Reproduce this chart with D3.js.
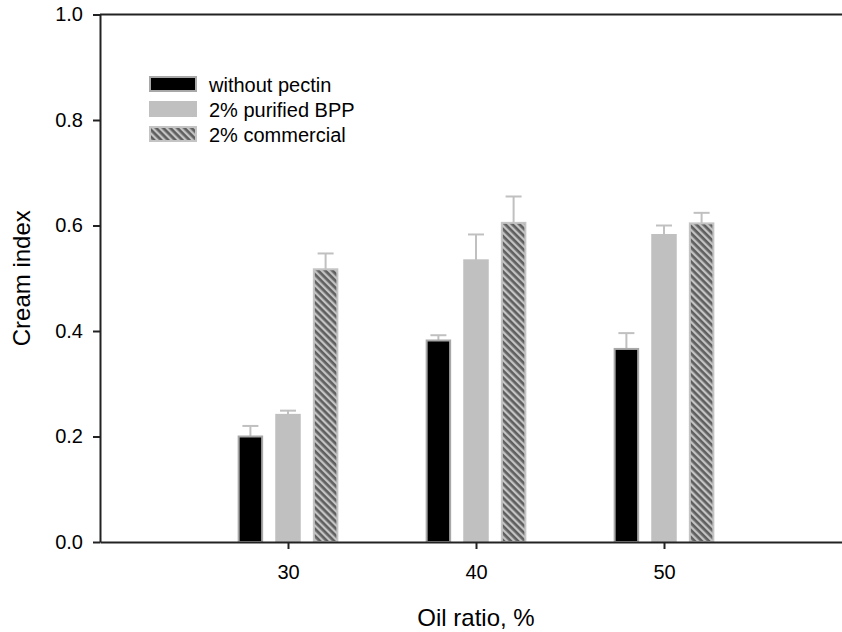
<!DOCTYPE html>
<html>
<head>
<meta charset="utf-8">
<script src="https://cdn.jsdelivr.net/npm/d3@7"></script>
<style>
  body { margin: 0; background: #fff; }
  svg { display: block; font-family: Arial, "Liberation Sans", sans-serif; }
</style>
</head>
<body>
<div id="graph"></div>
<script>
// donnees
const oilRatios = [30, 40, 50];
const seriesNames = ['without pectin', '2% purified BPP', '2% commercial'];
const withoutPectin = [0.200, 0.382, 0.366];
const purifiedBPP = [0.241, 0.534, 0.582];
const commercial = [0.517, 0.605, 0.604];
const errWithout = [0.020, 0.010, 0.030];
const errBPP = [0.008, 0.049, 0.018];
const errCommercial = [0.030, 0.050, 0.020];
const yTicks = [0, 0.2, 0.4, 0.6, 0.8, 1.0];

const width = 842, height = 632;

let svg = d3.select('#graph').append('svg')
    .attr('width', width)
    .attr('height', height);

// motif hachure pour la serie "commercial"
let defs = svg.append('defs');
let pat = defs.append('pattern')
    .attr('id', 'hatch')
    .attr('patternUnits', 'userSpaceOnUse')
    .attr('width', 5)
    .attr('height', 5)
    .attr('patternTransform', 'rotate(-45)');
pat.append('rect').attr('width', 5).attr('height', 5).attr('fill', '#5f5f5f');
pat.append('rect').attr('width', 2.3).attr('height', 5).attr('fill', '#c4c4c4');

let x = d3.scaleLinear().domain([20, 60]).range([100, 852]);
let y = d3.scaleLinear().domain([0, 1]).range([542, 14.5]);

const series = [
    { name: seriesNames[0], values: withoutPectin, err: errWithout, fill: '#000', stroke: '#a8a8a8', offset: -2 },
    { name: seriesNames[1], values: purifiedBPP, err: errBPP, fill: '#c0c0c0', stroke: '#c0c0c0', offset: 0 },
    { name: seriesNames[2], values: commercial, err: errCommercial, fill: 'url(#hatch)', stroke: '#c4c4c4', offset: 2 }
];
const barW = x(1.25) - x(0);

// barres d'erreur (seulement vers le haut)
series.forEach(s => {
    let g = svg.append('g').attr('stroke', '#c0c0c0').attr('stroke-width', 2);
    oilRatios.forEach((r, i) => {
        let cx = x(r + s.offset);
        g.append('line')
            .attr('x1', cx).attr('x2', cx)
            .attr('y1', y(s.values[i])).attr('y2', y(s.values[i] + s.err[i]));
        g.append('line')
            .attr('x1', cx - 8).attr('x2', cx + 8)
            .attr('y1', y(s.values[i] + s.err[i])).attr('y2', y(s.values[i] + s.err[i]));
    });
});

// barres
series.forEach(s => {
    svg.append('g')
        .selectAll('rect')
        .data(s.values)
        .join('rect')
        .attr('x', (d, i) => x(oilRatios[i] + s.offset) - barW / 2)
        .attr('y', d => y(d))
        .attr('width', barW)
        .attr('height', d => y(0) - y(d))
        .attr('fill', s.fill)
        .attr('stroke', s.stroke)
        .attr('stroke-width', 2);
});

// axes
let yAxis = svg.append('g')
    .attr('transform', 'translate(' + x(20) + ',0)')
    .call(d3.axisLeft(y).tickValues(yTicks).tickFormat(d3.format('.1f')).tickSize(7).tickSizeOuter(0).tickPadding(10));
let xAxis = svg.append('g')
    .attr('transform', 'translate(0,' + y(0) + ')')
    .call(d3.axisBottom(x).tickValues(oilRatios).tickSize(7).tickSizeOuter(0).tickPadding(16));
svg.append('line')
    .attr('x1', x(20)).attr('x2', x(60))
    .attr('y1', y(1)).attr('y2', y(1))
    .attr('stroke', '#222').attr('stroke-width', 2);

[yAxis, xAxis].forEach(a => {
    a.selectAll('path, line').attr('stroke', '#222').attr('stroke-width', 2);
    a.selectAll('text').attr('font-size', 20).attr('fill', '#000').attr('font-family', 'Arial, "Liberation Sans", sans-serif');
});

// titres des axes
svg.append('text')
    .attr('x', x(40))
    .attr('y', 626)
    .attr('text-anchor', 'middle')
    .attr('font-size', 24)
    .text('Oil ratio, %');
svg.append('text')
    .attr('transform', 'translate(30,' + (y(0) + y(1)) / 2 + ') rotate(-90)')
    .attr('text-anchor', 'middle')
    .attr('font-size', 24)
    .text('Cream index');

// legende
let legend = svg.append('g');
series.forEach((s, i) => {
    let row = legend.append('g').attr('transform', 'translate(150,' + (77 + i * 25) + ')');
    row.append('rect')
        .attr('width', 46).attr('height', 14)
        .attr('fill', s.fill)
        .attr('stroke', s.stroke).attr('stroke-width', 2);
    row.append('text')
        .attr('x', 59).attr('y', 14.5)
        .attr('font-size', 20)
        .text(s.name);
});
</script>
</body>
</html>
